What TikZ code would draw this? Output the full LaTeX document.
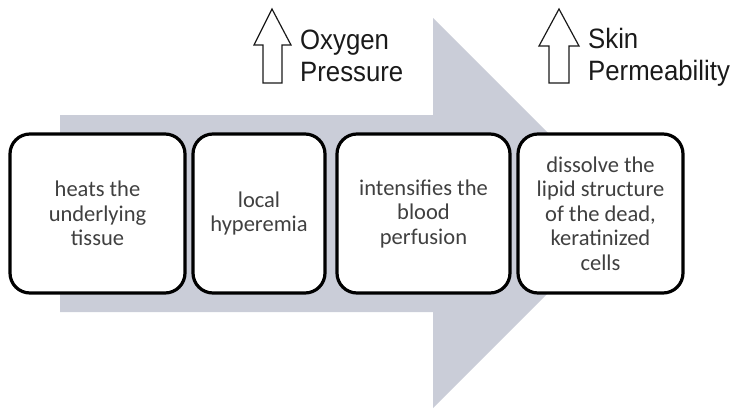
\documentclass[tikz,border=0pt]{standalone}
\usepackage{fontspec}
\setmainfont{Liberation Sans}
\newfontfamily\boxfont{Carlito}
\newfontfamily\labfont{Liberation Sans}[FakeStretch=0.92]
\definecolor{arrowgrey}{RGB}{202,205,216}
\definecolor{boxtext}{RGB}{64,64,64}
\definecolor{labtext}{RGB}{26,26,26}
\begin{document}
\begin{tikzpicture}[x=1pt,y=-1pt,
  stepbox/.style={draw=black, line width=3.2pt, rounded corners=20pt, fill=white,
    minimum height=159pt, inner sep=0pt, align=center,
    font=\boxfont\fontsize{22.5}{24.5}\selectfont, text=boxtext},
  uparrow/.style={draw=labtext, line width=1.2pt, fill=white, line join=miter},
  lab/.style={anchor=north west, inner sep=0pt, align=left,
    font=\labfont\fontsize{28}{32}\selectfont, text=labtext}]
\useasboundingbox (0,0) rectangle (742,410);
% big grey arrow
\fill[arrowgrey] (60,115) -- (433,115) -- (433,18) -- (628,213) -- (433,408)
  -- (433,312) -- (60,312) -- cycle;
% boxes
\node[stepbox, minimum width=175pt] (b1) at (97.5,213.5) {heats the\\underlying\\tissue};
\node[stepbox, minimum width=132pt] (b2) at (259,213.5) {local\\hyperemia};
\node[stepbox, minimum width=173pt] (b3) at (423.5,213.5) {intensifies the\\blood\\perfusion};
\node[stepbox, minimum width=165pt] (b4) at (600.5,213.5) {dissolve the\\lipid structure\\of the dead,\\keratinized\\cells};
% up arrows
\draw[uparrow] (272,9) -- (291,45) -- (282,45) -- (282,83) -- (263,83) -- (263,45) -- (254,45) -- cycle;
\draw[uparrow] (559,9) -- (579,46) -- (569,46) -- (569,83) -- (549,83) -- (549,46) -- (539,46) -- cycle;
% labels
\node[lab] (oxy) at (300,29.5) {Oxygen\\Pressure};
\node[lab] (skin) at (588,28) {Skin\\Permeability};
\end{tikzpicture}
\end{document}
